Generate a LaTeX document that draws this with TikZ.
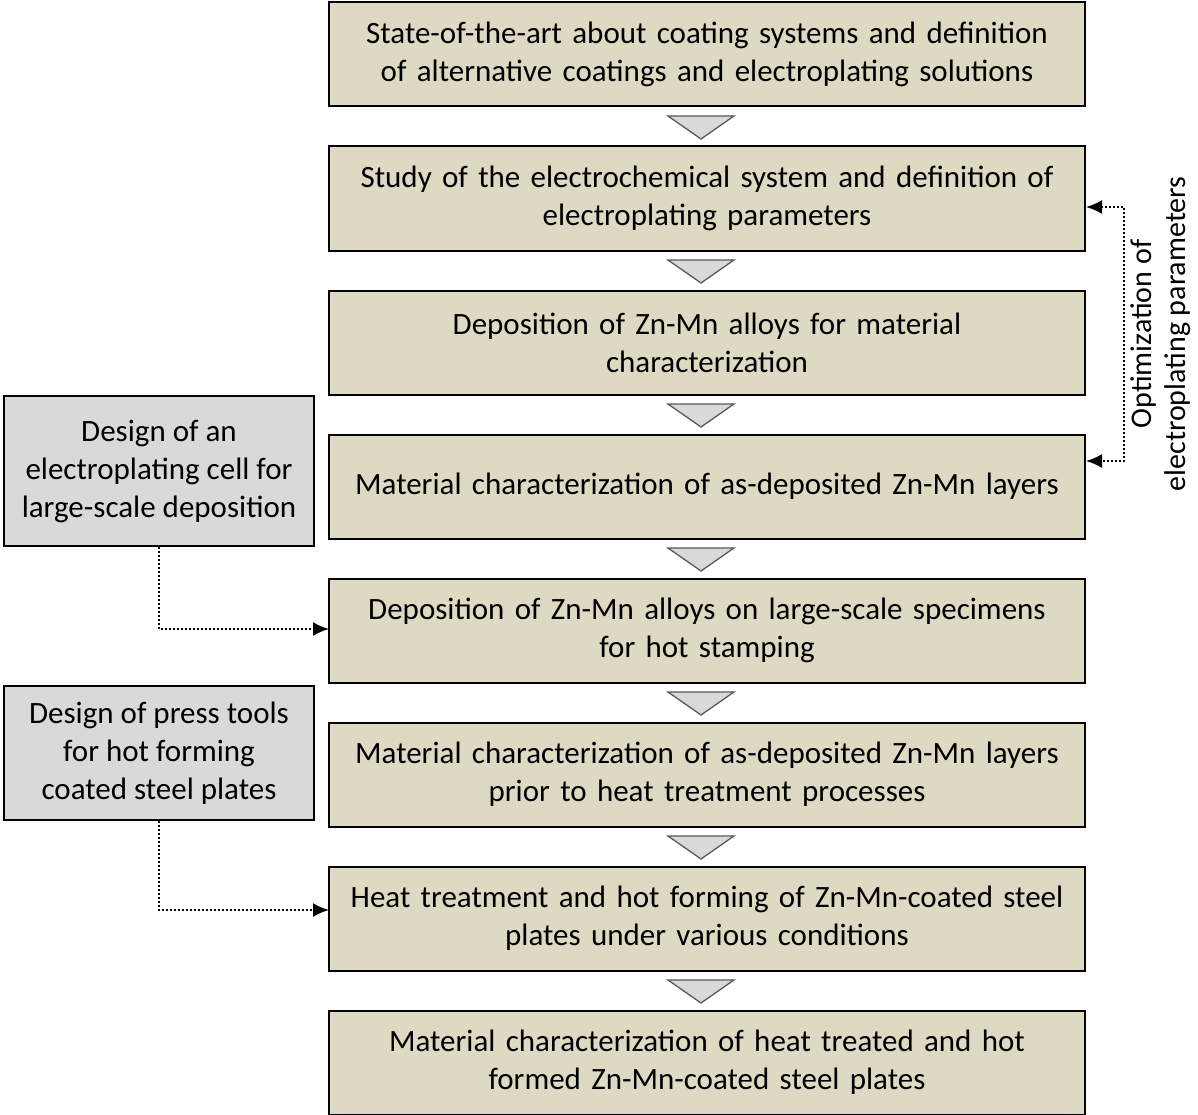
\documentclass[tikz,border=0pt]{standalone}
\usepackage{fontspec}
\setmainfont{Carlito}
\usetikzlibrary{arrows.meta}
\definecolor{tanfill}{HTML}{DDD9C3}
\definecolor{lgrey}{HTML}{D9D9D9}
\definecolor{tristroke}{HTML}{595959}
\begin{document}
\begin{tikzpicture}[x=1pt,y=-1pt,
  mainbox/.style={draw=black, line width=2pt, fill=tanfill, minimum width=756pt, minimum height=104pt, text width=745pt, align=center, inner sep=0pt, font=\fontsize{31}{38}\selectfont},
  sidebox/.style={draw=black, line width=2pt, fill=lgrey, minimum width=310pt, align=center, inner sep=0pt, font=\fontsize{31}{38}\selectfont},
  flowtri/.style={draw=tristroke, line width=1.3pt, fill=lgrey, line join=miter},
  link/.style={dash pattern=on 2pt off 2pt, line width=2pt, -{Latex[length=16pt,width=14pt]}},
  dlink/.style={dash pattern=on 2pt off 2pt, line width=2pt, {Latex[length=16pt,width=14pt]}-{Latex[length=16pt,width=14pt]}},
  lbl/.style={align=center, inner sep=0pt, font=\fontsize{30}{34}\selectfont}]
\useasboundingbox (0,0) rectangle (1198,1115);

\node[mainbox] (b1) at (707,54.5) {State-of-the-art about coating systems and definition\\of alternative coatings and electroplating solutions};
\node[mainbox] (b2) at (707,198.5) {Study of the electrochemical system and definition of\\electroplating parameters};
\node[mainbox] (b3) at (707,342.5) {Deposition of Zn-Mn alloys for material\\characterization};
\node[mainbox] (b4) at (707,486.5) {Material characterization of as-deposited Zn-Mn layers};
\node[mainbox] (b5) at (707,630.5) {Deposition of Zn-Mn alloys on large-scale specimens\\for hot stamping};
\node[mainbox] (b6) at (707,774.5) {Material characterization of as-deposited Zn-Mn layers\\prior to heat treatment processes};
\node[mainbox] (b7) at (707,918.5) {Heat treatment and hot forming of Zn-Mn-coated steel\\plates under various conditions};
\node[mainbox] (b8) at (707,1062.5) {Material characterization of heat treated and hot\\formed Zn-Mn-coated steel plates};

\foreach \y in {116,260,404,548,692,836,980} {
  \draw[flowtri] (668,\y) -- (734,\y) -- (701,\y+23) -- cycle;
}

\node[sidebox, minimum height=150pt] (s1) at (159,471) {Design of an\\electroplating cell for\\large-scale deposition};
\node[sidebox, minimum height=134pt] (s2) at (159,753) {Design of press tools\\for hot forming\\coated steel plates};

\coordinate (t5) at (329,629);
\coordinate (t7) at (329,910);
\draw[link] (s1.south) |- (t5);
\draw[link] (s2.south) |- (t7);

\coordinate (r1) at (1124,207);
\coordinate (r2) at (1124,461);
\draw[dlink] (b2.east |- r1) -- (r1) -- (r2) -- (b4.east |- r2);

\node[lbl, rotate=90] (opt) at (1161,334) {Optimization of\\electroplating parameters};
\end{tikzpicture}
\end{document}
